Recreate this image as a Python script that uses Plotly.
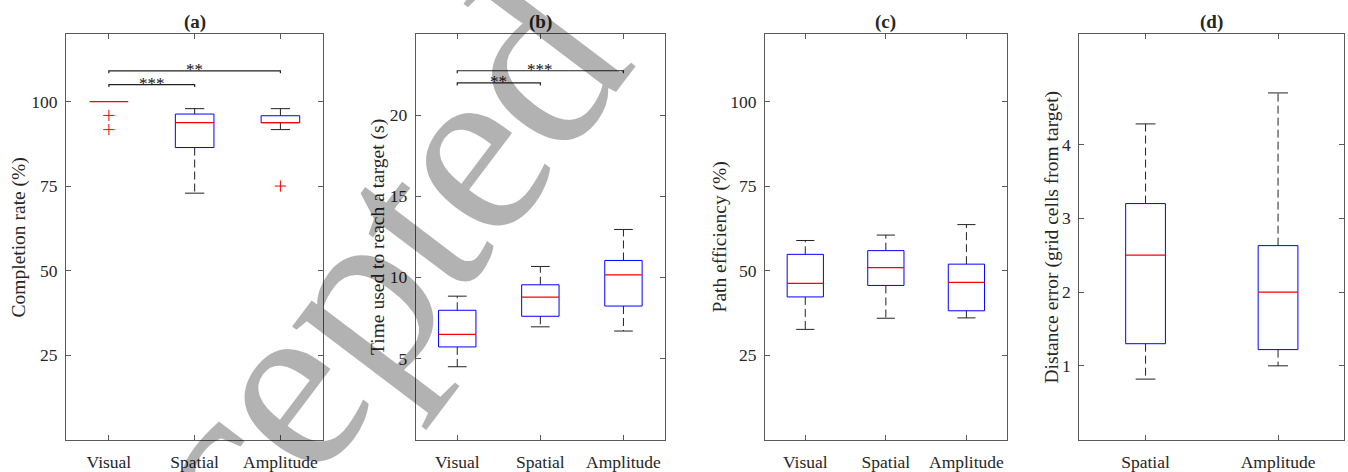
import math
import plotly.graph_objects as go

# ---------------- data ----------------
cats_a = ["Visual", "Spatial", "Amplitude"]
# completion rate (%)
a_lower = [100.0, 72.9, 91.7]
a_q1 = [100.0, 86.4, 93.75]
a_med = [100.0, 93.75, 93.75]
a_q3 = [100.0, 96.3, 95.8]
a_upper = [100.0, 97.9, 97.9]
a_out_x = ["Visual", "Visual", "Amplitude"]
a_out_y = [95.9, 91.7, 75.0]

cats_b = ["Visual", "Spatial", "Amplitude"]
# time to reach target (s)
b_lower = [4.49, 6.95, 6.69]
b_q1 = [5.71, 7.60, 8.23]
b_med = [6.49, 8.78, 10.15]
b_q3 = [7.97, 9.54, 11.04]
b_upper = [8.84, 10.67, 12.95]

cats_c = ["Visual", "Spatial", "Amplitude"]
# path efficiency (%)
c_lower = [32.6, 35.9, 36.0]
c_q1 = [42.2, 45.6, 38.1]
c_med = [46.2, 50.9, 46.5]
c_q3 = [54.8, 55.9, 51.9]
c_upper = [58.9, 60.5, 63.6]

cats_d = ["Spatial", "Amplitude"]
# distance error (grid cells)
d_lower = [0.82, 1.0]
d_q1 = [1.30, 1.22]
d_med = [2.5, 2.0]
d_q3 = [3.20, 2.63]
d_upper = [4.28, 4.70]

# significance brackets: (from, to, height, label)
sig_a_from = ["Visual", "Visual"]
sig_a_to = ["Spatial", "Amplitude"]
sig_a_y = [105.0, 109.1]
sig_a_lab = ["***", "**"]

sig_b_from = ["Visual", "Visual"]
sig_b_to = ["Spatial", "Amplitude"]
sig_b_y = [21.98, 22.73]
sig_b_lab = ["**", "***"]

titles = ["(a)", "(b)", "(c)", "(d)"]
ylabels = ["Completion rate (%)", "Time used to reach a target (s)",
           "Path efficiency (%)", "Distance error (grid cells from target)"]
yranges = [[0, 120], [0, 25], [0, 120], [0, 5.5]]
ytickvals = [[25, 50, 75, 100], [5, 10, 15, 20], [25, 50, 75, 100], [1, 2, 3, 4]]

watermark = "Accepted"

# ---------------- layout geometry (pixels) ----------------
W, H = 1348, 472
px_x = [(66, 323.3), (415.7, 665), (765, 1006.7), (1079.3, 1344.3)]
px_top, px_bot = 34.3, 444.3
ylab_x = [19, 378.5, 720, 1052]
box_w = [0.45, 0.45, 0.45, 0.30]

FONT = "Liberation Serif"
TXT = "#262626"
AX = "#5a5a5a"

fig = go.Figure()

panels = [
    (cats_a, a_lower, a_q1, a_med, a_q3, a_upper),
    (cats_b, b_lower, b_q1, b_med, b_q3, b_upper),
    (cats_c, c_lower, c_q1, c_med, c_q3, c_upper),
    (cats_d, d_lower, d_q1, d_med, d_q3, d_upper),
]

def nm(i, ax):
    return ax if i == 0 else ax + str(i + 1)

for i, (cats, lo, q1, md, q3, up) in enumerate(panels):
    xa, ya = "x" if i == 0 else f"x{i+1}", "y" if i == 0 else f"y{i+1}"
    w = box_w[i]
    cw = w / 2
    pos = list(range(1, len(cats) + 1))
    wx, wy, cx, cy, bx, by, mx, my = [], [], [], [], [], [], [], []
    for p, l, a, m, b, u in zip(pos, lo, q1, md, q3, up):
        if u > b:
            wx += [p, p, None]
            wy += [b, u, None]
            cx += [p - cw / 2, p + cw / 2, None]
            cy += [u, u, None]
        if l < a:
            wx += [p, p, None]
            wy += [a, l, None]
            cx += [p - cw / 2, p + cw / 2, None]
            cy += [l, l, None]
        if b > a:
            bx += [p - w / 2, p + w / 2, p + w / 2, p - w / 2, p - w / 2, None]
            by += [a, a, b, b, a, None]
        mx += [p - w / 2, p + w / 2, None]
        my += [m, m, None]
    fig.add_trace(go.Scatter(x=wx, y=wy, mode="lines", xaxis=xa, yaxis=ya,
                             line=dict(color="#222", width=1, dash="8px,4px"),
                             showlegend=False, hoverinfo="skip"))
    fig.add_trace(go.Scatter(x=cx, y=cy, mode="lines", xaxis=xa, yaxis=ya,
                             line=dict(color="#222", width=1),
                             showlegend=False, hoverinfo="skip"))
    fig.add_trace(go.Scatter(x=bx, y=by, mode="lines", xaxis=xa, yaxis=ya,
                             line=dict(color="#0000ff", width=1),
                             showlegend=False, hoverinfo="skip"))
    fig.add_trace(go.Scatter(x=mx, y=my, mode="lines", xaxis=xa, yaxis=ya,
                             line=dict(color="#ff0000", width=1.2),
                             showlegend=False, hoverinfo="skip"))

    x0, x1 = px_x[i]
    fig.layout[nm(i, "xaxis")] = dict(
        domain=[x0 / W, x1 / W], anchor=ya, range=[0.5, len(cats) + 0.5],
        tickvals=pos, ticktext=cats, ticks="inside", ticklen=5, tickcolor=AX,
        showline=True, linecolor=AX, linewidth=1, mirror="ticks",
        showgrid=False, zeroline=False, ticklabelstandoff=6,
        tickfont=dict(family=FONT, size=17.5, color=TXT), fixedrange=True)
    fig.layout[nm(i, "yaxis")] = dict(
        domain=[1 - px_bot / H, 1 - px_top / H], anchor=xa, range=yranges[i],
        tickvals=ytickvals[i], ticks="inside", ticklen=5, tickcolor=AX,
        showline=True, linecolor=AX, linewidth=1, mirror="ticks",
        showgrid=False, zeroline=False, ticklabelstandoff=4,
        tickfont=dict(family=FONT, size=17.5, color=TXT), fixedrange=True)

# outliers in panel (a)
fig.add_trace(go.Scatter(x=[cats_a.index(c) + 1 for c in a_out_x], y=a_out_y,
                         mode="markers", xaxis="x", yaxis="y",
                         marker=dict(symbol="cross-thin", size=8,
                                     line=dict(color="#ff0000", width=1)),
                         showlegend=False, hoverinfo="skip"))

# significance brackets
annotations = []
for i, (cats, fr, to, ys, labs) in enumerate([(cats_a, sig_a_from, sig_a_to, sig_a_y, sig_a_lab),
                                               (cats_b, sig_b_from, sig_b_to, sig_b_y, sig_b_lab)]):
    xa, ya = "x" if i == 0 else f"x{i+1}", "y" if i == 0 else f"y{i+1}"
    drop = 2.5 * (yranges[i][1] - yranges[i][0]) / (px_bot - px_top)
    sx, sy = [], []
    for f, t, yv, lab in zip(fr, to, ys, labs):
        p0, p1 = cats.index(f) + 1, cats.index(t) + 1
        sx += [p0, p0, p1, p1, None]
        sy += [yv - drop, yv, yv, yv - drop, None]
        annotations.append(dict(x=(p0 + p1) / 2, y=yv, xref=xa, yref=ya,
                                text=lab, showarrow=False, yanchor="bottom",
                                yshift=-10,
                                font=dict(family=FONT, size=17, color="#111")))
    fig.add_trace(go.Scatter(x=sx, y=sy, mode="lines", xaxis=xa, yaxis=ya,
                             line=dict(color="#222", width=1.2),
                             showlegend=False, hoverinfo="skip"))

# titles and y labels
for i in range(4):
    x0, x1 = px_x[i]
    annotations.append(dict(x=(x0 + x1) / 2 / W, y=1 - 22 / H, xref="paper", yref="paper",
                            text="<b>" + titles[i] + "</b>", showarrow=False,
                            xanchor="center", yanchor="middle",
                            font=dict(family=FONT, size=19, color=TXT)))
    annotations.append(dict(x=ylab_x[i] / W, y=1 - 240 / H, xref="paper", yref="paper",
                            text=ylabels[i], showarrow=False, textangle=-90,
                            xanchor="center", yanchor="middle",
                            font=dict(family=FONT, size=19.5, color=TXT)))

# watermark, laid out letter by letter along a rotated baseline
WM_SIZE = 252
WM_GAP = -3
WM_ANGLE = 52.9
adv = {"A": 0.722, "c": 0.444, "e": 0.444, "p": 0.5, "t": 0.278, "d": 0.5}
ux, uy = math.cos(math.radians(WM_ANGLE)), -math.sin(math.radians(WM_ANGLE))
vx, vy = -math.sin(math.radians(WM_ANGLE)), -math.cos(math.radians(WM_ANGLE))
anchor_idx = 3                      # first "e"
glyph_c = (303, 411)                # its glyph centre in pixels
off = 0.1075 * WM_SIZE              # text-box centre sits above x-height centre
anchor_px = (glyph_c[0] + vx * off, glyph_c[1] + vy * off)
centres, acc = [], 0.0
for k, ch in enumerate(watermark):
    centres.append((acc + adv[ch] / 2) * WM_SIZE + k * WM_GAP)
    acc += adv[ch]
for k, ch in enumerate(watermark):
    s = centres[k] - centres[anchor_idx]
    px, py = anchor_px[0] + ux * s, anchor_px[1] + uy * s
    annotations.append(dict(x=px / W, y=1 - py / H, xref="paper", yref="paper",
                            text=ch, showarrow=False, textangle=-WM_ANGLE,
                            xanchor="center", yanchor="middle",
                            font=dict(family=FONT, size=WM_SIZE,
                                      color="rgba(0,0,0,0.3)")))

fig.update_layout(width=W, height=H, margin=dict(l=0, r=0, t=0, b=0),
                  paper_bgcolor="white", plot_bgcolor="white",
                  annotations=annotations, showlegend=False)

fig.write_html("out.html", config={"displayModeBar": False},
               post_script="document.body.style.margin='0';document.body.style.overflow='hidden';")
